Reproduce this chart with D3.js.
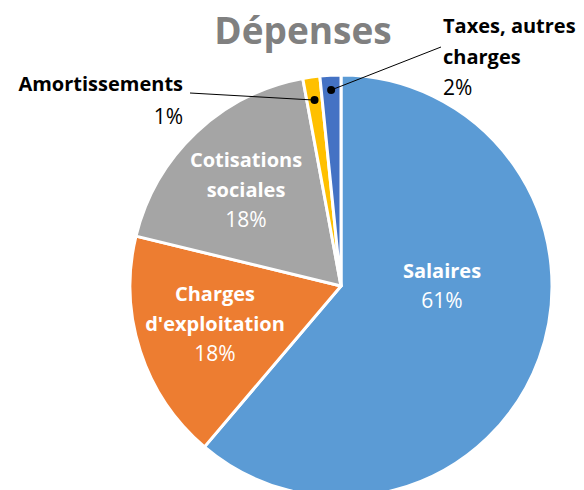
<!DOCTYPE html>
<html>
<head>
<meta charset="utf-8">
<script src="https://cdn.jsdelivr.net/npm/d3@7"></script>
<style>
  body { margin: 0; background: #fff; }
  text { font-family: "Open Sans", "Noto Sans", sans-serif; }
</style>
</head>
<body>
<div id="vis"></div>
<script>
// chart size
var width = 584;
var height = 490;

// data, clockwise from 12 o'clock
var categories = ["Salaires", "Charges d'exploitation", "Cotisations sociales", "Amortissements", "Taxes, autres charges"];
var values = [61.2, 17.6, 18.3, 1.3, 1.6];
var percentLabels = ["61%", "18%", "18%", "1%", "2%"];
var colors = ["#5B9BD5", "#ED7D31", "#A5A5A5", "#FFC000", "#4472C4"];

// label lines (how the category names wrap)
var nameLines = [["Salaires"], ["Charges", "d'exploitation"], ["Cotisations", "sociales"], ["Amortissements"], ["Taxes, autres", "charges"]];

var center = {x: 341, y: 286};
var radius = 211;
var nameSize = "20px";
var pctSize = "21px";

var svg = d3.select("#vis").append("svg")
  .attr("width", width)
  .attr("height", height);

var data = categories.map(function(c, i) {
  return {name: c, value: values[i], pct: percentLabels[i], color: colors[i], lines: nameLines[i]};
});

var pie = d3.pie().sort(null).value(d => d.value);
var arc = d3.arc().innerRadius(0).outerRadius(radius);

var g = svg.append("g")
  .attr("transform", "translate(" + center.x + "," + center.y + ")");

var arcs = pie(data);

g.selectAll("path.slice")
  .data(arcs)
  .enter()
  .append("path")
  .attr("class", "slice")
  .attr("d", arc)
  .attr("fill", d => d.data.color)
  .attr("stroke", "#fff")
  .attr("stroke-width", 3)
  .attr("stroke-linejoin", "round");

// title
svg.append("text")
  .attr("x", 303)
  .attr("y", 44)
  .attr("text-anchor", "middle")
  .style("font-size", "37px")
  .style("font-weight", "bold")
  .style("fill", "#808080")
  .text("Dépenses");

// inside labels: white, [dx, dy] of first line relative to pie center
var inside = [
  {i: 0, x: 101, y: -8},
  {i: 1, x: -126, y: 15},
  {i: 2, x: -95, y: -119}
];
var lineH = 30;

inside.forEach(function(p) {
  var d = data[p.i];
  var t = g.append("text")
    .attr("text-anchor", "middle")
    .style("fill", "#fff");
  d.lines.forEach(function(l, k) {
    t.append("tspan")
      .attr("x", p.x)
      .attr("y", p.y + k * lineH)
      .style("font-weight", "bold")
      .style("font-size", nameSize)
      .text(l);
  });
  t.append("tspan")
    .attr("x", p.x)
    .attr("y", p.y + d.lines.length * lineH)
    .style("font-size", pctSize)
    .text(d.pct);
});

// outside labels with leader lines
function midPoint(a, r) {
  var ang = (a.startAngle + a.endAngle) / 2;
  return [Math.sin(ang) * r, -Math.cos(ang) * r];
}

// Amortissements
var am = arcs[3];
var amDot = midPoint(am, radius * 0.89);
svg.append("line")
  .attr("x1", 190).attr("y1", 93)
  .attr("x2", center.x + amDot[0]).attr("y2", center.y + amDot[1])
  .attr("stroke", "#000").attr("stroke-width", 1);
svg.append("circle")
  .attr("cx", center.x + amDot[0]).attr("cy", center.y + amDot[1])
  .attr("r", 4).attr("fill", "#000");
var tAm = svg.append("text")
  .attr("text-anchor", "end")
  .style("fill", "#000");
tAm.append("tspan").attr("x", 183).attr("y", 91).style("font-weight", "bold").style("font-size", nameSize).text(data[3].lines[0]);
tAm.append("tspan").attr("x", 183).attr("y", 124).style("font-size", pctSize).text(data[3].pct);

// Taxes, autres charges
var tx = arcs[4];
var txDot = midPoint(tx, radius * 0.93);
svg.append("line")
  .attr("x1", 441).attr("y1", 47)
  .attr("x2", center.x + txDot[0]).attr("y2", center.y + txDot[1])
  .attr("stroke", "#000").attr("stroke-width", 1);
svg.append("circle")
  .attr("cx", center.x + txDot[0]).attr("cy", center.y + txDot[1])
  .attr("r", 4).attr("fill", "#000");
var tTx = svg.append("text")
  .attr("text-anchor", "start")
  .style("fill", "#000");
tTx.append("tspan").attr("x", 443).attr("y", 33).style("font-weight", "bold").style("font-size", nameSize).text(data[4].lines[0]);
tTx.append("tspan").attr("x", 443).attr("y", 64).style("font-weight", "bold").style("font-size", nameSize).text(data[4].lines[1]);
tTx.append("tspan").attr("x", 443).attr("y", 95).style("font-size", pctSize).text(data[4].pct);
</script>
</body>
</html>
